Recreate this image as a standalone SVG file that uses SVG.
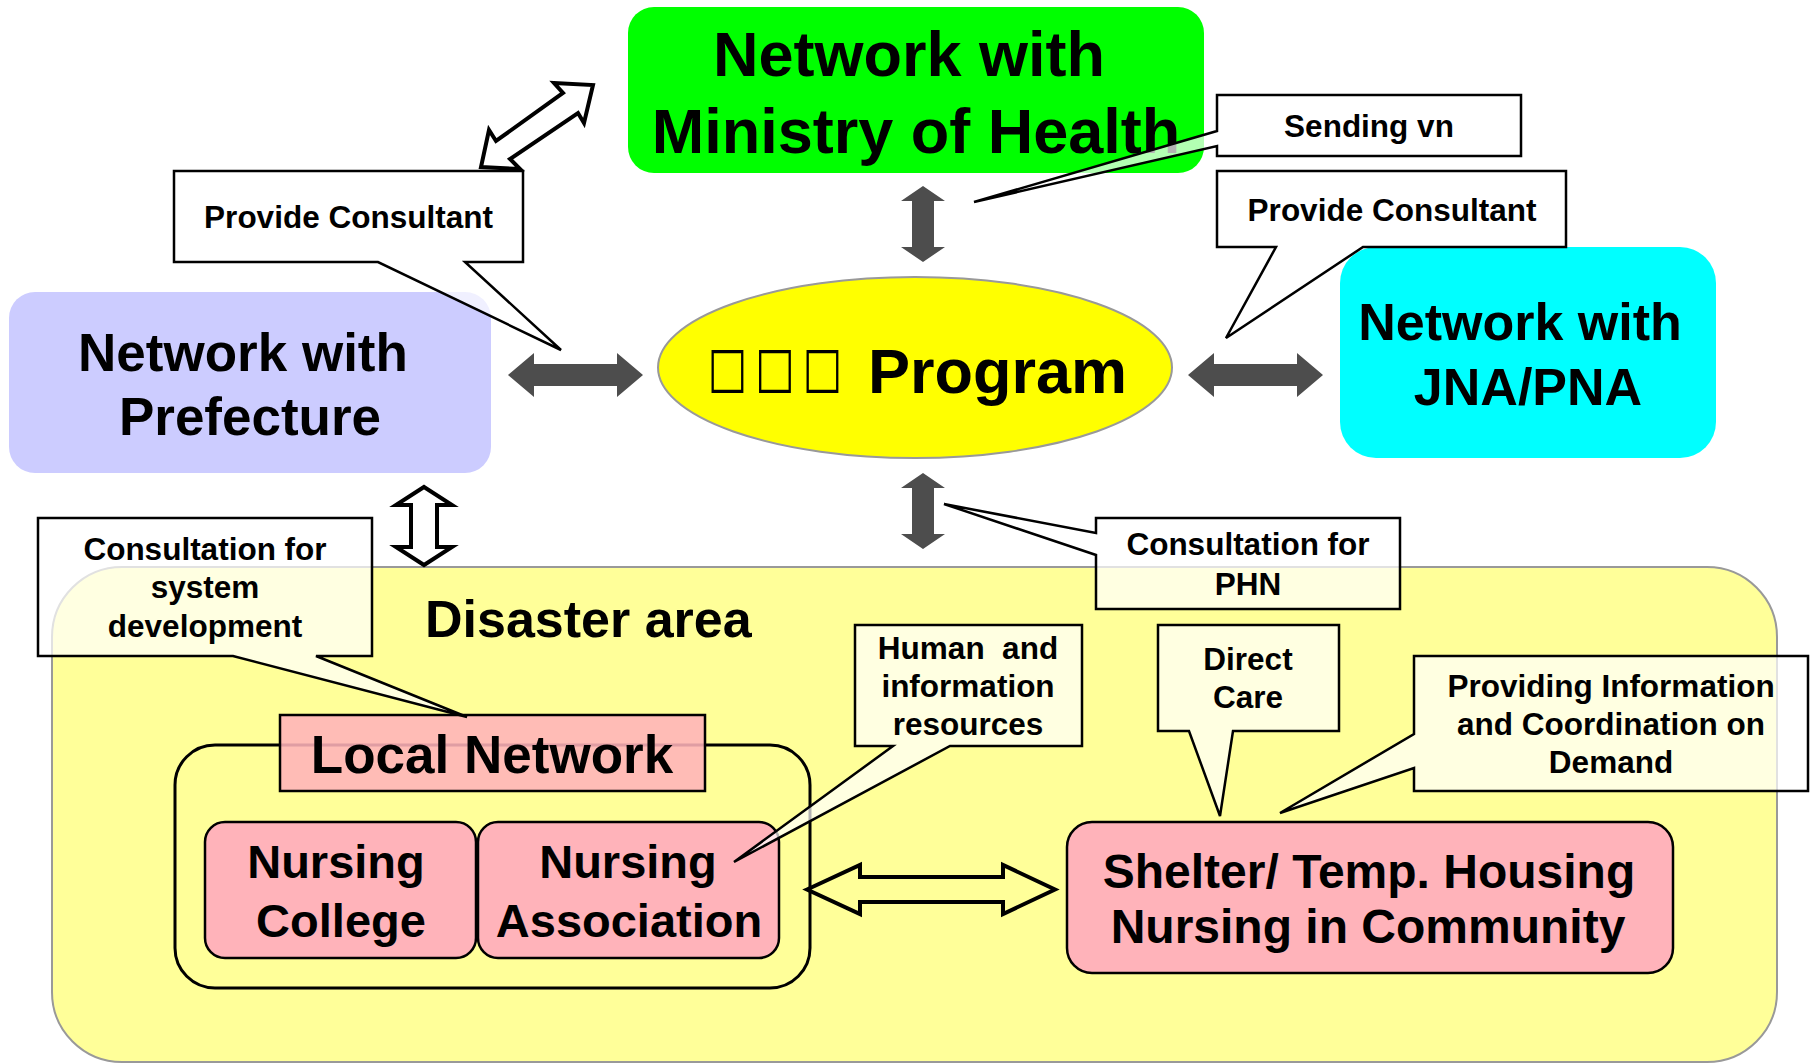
<svg xmlns="http://www.w3.org/2000/svg" width="1810" height="1064" viewBox="0 0 1810 1064">
<style>
text{font-family:"Liberation Sans",Arial,sans-serif;font-weight:bold;fill:#000}
.big{font-size:63px}
.c{text-anchor:middle}
.call{font-size:31.5px;text-anchor:middle}
.cbox{fill:#fff;fill-opacity:0.7;stroke:#000;stroke-width:2.5;stroke-linejoin:miter}
.pink{fill:#ffb3ba;stroke:#000;stroke-width:2.5}
.dark{fill:#4d4d4d}
.hollow{fill:none;stroke:#000;stroke-width:4;stroke-linejoin:miter}
</style>
<rect width="1810" height="1064" fill="#fff"/>

<g id="disaster-area">
<rect x="52" y="567" width="1725" height="495" rx="70" fill="#ffff99" stroke="#999" stroke-width="2"/>
<text x="425" y="637" font-size="52">Disaster area</text>
</g>

<g id="prefecture">
<rect x="9" y="292" width="482" height="181" rx="26" fill="#ccccff"/>
<text class="c" x="243" y="371" font-size="53">Network with</text>
<text class="c" x="250" y="435" font-size="53">Prefecture</text>
</g>

<g id="ministry">
<rect x="628" y="7" width="576" height="166" rx="26" fill="#00ff00"/>
<text class="big c" x="909" y="76">Network with</text>
<text class="big c" x="916" y="153">Ministry of Health</text>
</g>

<g id="jna-pna">
<rect x="1340" y="247" width="376" height="211" rx="36" fill="#00ffff"/>
<text class="c" x="1520" y="340" font-size="52">Network with</text>
<text class="c" x="1528" y="405" font-size="52">JNA/PNA</text>
</g>

<g id="program">
<ellipse cx="915" cy="367.5" rx="257" ry="90.5" fill="#ffff00" stroke="#999" stroke-width="2"/>
<text transform="scale(0.743 1)" x="979 1043 1107" y="385.6" text-anchor="middle" style="font-family:'DejaVu Sans',sans-serif;font-weight:normal;font-size:56px">□□□</text>
<text class="big" x="868" y="393">Program</text>
</g>

<g id="local-network">
<rect x="175" y="745" width="635" height="243" rx="40" fill="none" stroke="#000" stroke-width="3"/>
<rect x="280" y="715" width="425" height="76" fill="#ffb3ba" fill-opacity="0.88" stroke="#000" stroke-width="2.5"/>
<text class="c" x="492" y="773" font-size="53">Local Network</text>
</g>

<g id="nursing-college">
<rect class="pink" x="205" y="822" width="271" height="136" rx="20"/>
<text class="c" x="336" y="878" font-size="47">Nursing</text>
<text class="c" x="341" y="937" font-size="47">College</text>
</g>

<g id="nursing-association">
<rect class="pink" x="478" y="822" width="301" height="136" rx="20"/>
<text class="c" x="628" y="878" font-size="47">Nursing</text>
<text class="c" x="629" y="937" font-size="47">Association</text>
</g>

<g id="shelter">
<rect class="pink" x="1067" y="822" width="606" height="151" rx="25" stroke-width="3"/>
<text class="c" x="1369" y="888" font-size="48">Shelter/ Temp. Housing</text>
<text class="c" x="1368" y="943" font-size="48">Nursing in Community</text>
</g>

<g id="connectors">
<path class="dark" d="M923 186 L945 201 L934 201 L934 247 L945 247 L923 262 L901 247 L912 247 L912 201 L901 201 Z"/>
<path class="dark" d="M923 473 L945 488 L934 488 L934 534 L945 534 L923 549 L901 534 L912 534 L912 488 L901 488 Z"/>
<path class="dark" d="M508 375 L534 353 L534 364 L617 364 L617 353 L643 375 L617 397 L617 386 L534 386 L534 397 Z"/>
<path class="dark" d="M1188 375 L1214 353 L1214 364 L1297 364 L1297 353 L1323 375 L1297 397 L1297 386 L1214 386 L1214 397 Z"/>
<path class="hollow" d="M593 85 L584 123 L578 113 L510 159 L520 169 L481 167 L489 130 L496 141 L563 93 L554 83 Z"/>
<path class="hollow" d="M424 487 L452 505 L437 505 L437 547 L452 547 L424 565 L396 547 L411 547 L411 505 L396 505 Z"/>
<path class="hollow" d="M807 889.5 L860 865 L860 877 L1003 877 L1003 865 L1055 889.5 L1003 914 L1003 902 L860 902 L860 914 Z"/>
</g>

<g id="callout-provide-left">
<path class="cbox" d="M174 171 H523 V262 H465 L561 350 L378 262 H174 Z"/>
<text class="call" x="348.5" y="228">Provide Consultant</text>
</g>

<g id="callout-sending">
<path class="cbox" d="M1217 95 H1521 V156 H1217 V146 L974 202 L1217 131 Z"/>
<text class="call" x="1369" y="137">Sending vn</text>
</g>

<g id="callout-provide-right">
<path class="cbox" d="M1217 171 H1566 V247 H1363 L1226 338 L1276 247 H1217 Z"/>
<text class="call" x="1392" y="221">Provide Consultant</text>
</g>

<g id="callout-system">
<path class="cbox" d="M38 518 H372 V656 H316 L467 717 L233 656 H38 Z"/>
<text class="call" x="205" y="560">Consultation for</text>
<text class="call" x="205" y="598">system</text>
<text class="call" x="205" y="637">development</text>
</g>

<g id="callout-phn">
<path class="cbox" d="M1096 518 H1400 V609 H1096 V555 L944 504 L1096 533 Z"/>
<text class="call" x="1248" y="555">Consultation for</text>
<text class="call" x="1248" y="595">PHN</text>
</g>

<g id="callout-human">
<path class="cbox" d="M855 625 H1082 V746 H950 L734 862 L893 746 H855 Z"/>
<text class="call" x="968" y="659" style="white-space:pre">Human  and</text>
<text class="call" x="968" y="697">information</text>
<text class="call" x="968" y="735">resources</text>
</g>

<g id="callout-direct">
<path class="cbox" d="M1158 625 H1339 V731 H1233 L1220 816 L1189 731 H1158 Z"/>
<text class="call" x="1248" y="670">Direct</text>
<text class="call" x="1248" y="708">Care</text>
</g>

<g id="callout-providing">
<path class="cbox" d="M1414 656 H1808 V791 H1414 V768 L1280 813 L1414 734 Z"/>
<text class="call" x="1611" y="697">Providing Information</text>
<text class="call" x="1611" y="735">and Coordination on</text>
<text class="call" x="1611" y="773">Demand</text>
</g>
</svg>
